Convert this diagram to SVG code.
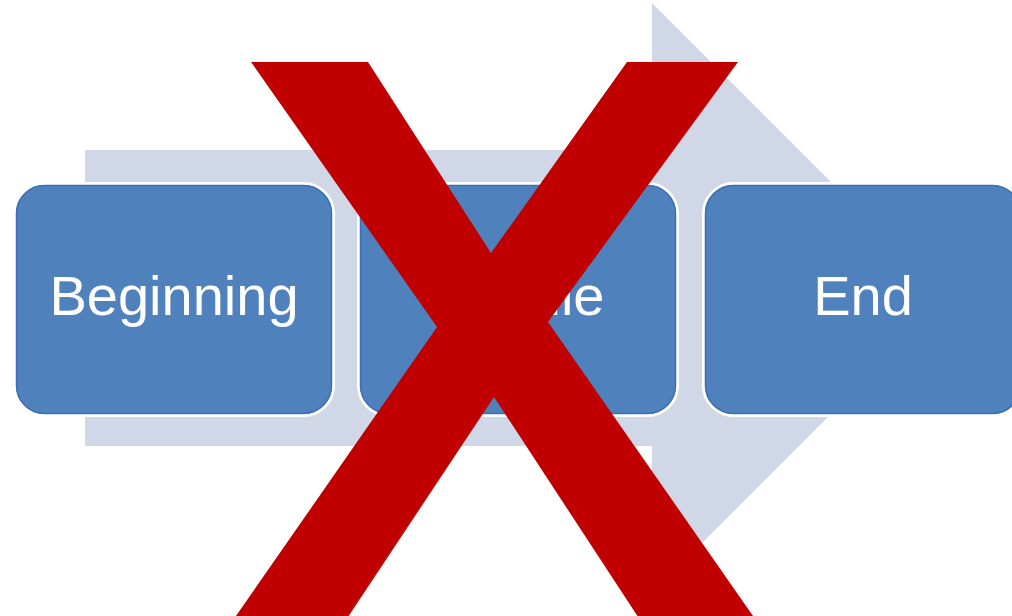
<svg xmlns="http://www.w3.org/2000/svg" width="1012" height="616" viewBox="0 0 1012 616">
  <style>
    .box { fill: #4F81BD; stroke: #FFFFFF; stroke-width: 3; }
    .edge { fill: none; stroke: #3C6FB5; stroke-width: 1.5; }
    .label { font-family: "Liberation Sans", Arial, sans-serif; font-size: 56px; fill: #FFFFFF; text-anchor: middle; }
    .bg-arrow { fill: #D0D8E7; }
    .cross { fill: #C00000; }
  </style>
  <rect width="1012" height="616" fill="#FFFFFF"/>
  <g id="connectors">
    <polygon class="bg-arrow" points="85,150 652,150 652,3 947,298 652,593 652,446 85,446"/>
  </g>
  <g id="node-beginning">
    <rect class="box" x="14.5" y="183.5" width="319" height="232" rx="30"/>
    <rect class="edge" x="16.5" y="185.5" width="315" height="228" rx="28"/>
    <text class="label" x="174" y="315">Beginning</text>
  </g>
  <g id="node-middle">
    <rect class="box" x="358.5" y="183.5" width="319" height="232" rx="30"/>
    <rect class="edge" x="360.5" y="185.5" width="315" height="228" rx="28"/>
    <text class="label" x="522" y="315">Middle</text>
  </g>
  <g id="node-end">
    <rect class="box" x="703.5" y="183.5" width="319" height="232" rx="30"/>
    <rect class="edge" x="705.5" y="185.5" width="315" height="228" rx="28"/>
    <text class="label" x="863" y="315">End</text>
  </g>
  <g id="red-cross">
    <polygon class="cross" points="251,62 368,62 491,253 627,62 738,62 548,322 760,626 644,626 494,397 342,626 229,626 437,327"/>
  </g>
</svg>
